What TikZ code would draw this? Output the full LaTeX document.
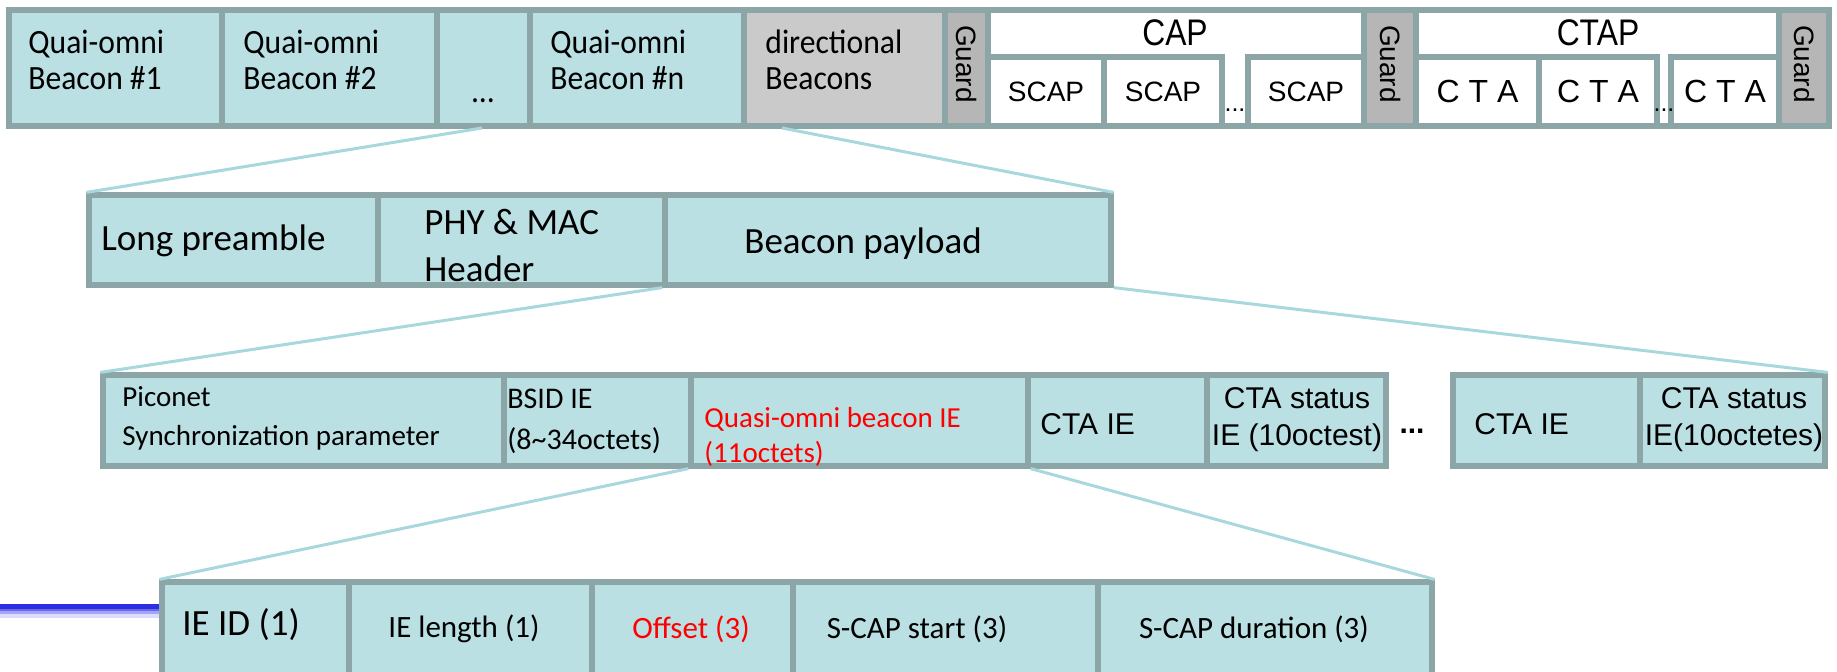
\documentclass[tikz,border=0pt]{standalone}
\usepackage{fontspec}
\setmainfont{Carlito}
\newfontfamily\calnarrow[FakeStretch=0.93]{Carlito}
\newfontfamily\arialf{Liberation Sans}
\newfontfamily\arialn[FakeStretch=0.86]{Liberation Sans}
\usetikzlibrary{fit}
\definecolor{cellfill}{RGB}{186,224,227}
\definecolor{cellline}{RGB}{140,166,168}
\definecolor{guardfill}{RGB}{182,182,182}
\definecolor{dirfill}{RGB}{202,202,202}
\definecolor{linkc}{RGB}{168,216,221}
\definecolor{barA}{RGB}{45,45,228}
\definecolor{barB}{RGB}{105,105,238}
\definecolor{barC}{RGB}{165,165,245}
\definecolor{barD}{RGB}{220,220,250}
\begin{document}
\begin{tikzpicture}[x=0.5pt,y=-0.5pt,
  box/.style={draw=cellline, line width=2.6pt, fill=cellfill, inner sep=0pt},
  whitebox/.style={box, fill=white},
  guardbox/.style={box, fill=guardfill},
  dirbox/.style={box, fill=dirfill},
  link/.style={draw=linkc, line width=1.5pt},
  lbl/.style={inner sep=0pt, align=left, anchor=west},
  clbl/.style={inner sep=0pt, align=center},
  fTop/.style={font=\calnarrow\fontsize{17}{18.3}\selectfont},
  fBig/.style={font=\fontsize{18.5}{23.5}\selectfont},
  fMid/.style={font=\fontsize{15.5}{19.5}\selectfont},
  fSmall/.style={font=\fontsize{14.5}{19.5}\selectfont},
  fArial/.style={font=\arialf\fontsize{15}{18.5}\selectfont},
  fGuard/.style={font=\arialf\fontsize{14}{15}\selectfont},
]
\useasboundingbox (0,0) rectangle (1837,672);
\clip (0,0) rectangle (1837,672);

% ---------- connector end points inside the superframe row ----------
\coordinate (t1) at (482,128);
\coordinate (t2) at (782,128);

% ---------- row 1: superframe ----------
\node[box, fit={(9,10) (222,126)}] (q1) {};
\node[box, fit={(222,10) (437,126)}] (q2) {};
\node[box, fit={(437,10) (530,126)}] (qd) {};
\node[box, fit={(530,10) (744,126)}] (qn) {};
\node[dirbox, fit={(744,10) (945,126)}] (dir) {};
\node[guardbox, fit={(945,10) (988,126)}] (g1) {};
\node[whitebox, fit={(988,10) (1364,126)}] (cap) {};
\node[whitebox, fit={(988,57) (1104,126)}] (s1) {};
\node[whitebox, fit={(1104,57) (1222,126)}] (s2) {};
\node[whitebox, fit={(1248,57) (1364,126)}] (s3) {};
\node[guardbox, fit={(1364,10) (1416,126)}] (g2) {};
\node[whitebox, fit={(1416,10) (1779,126)}] (ctap) {};
\node[whitebox, fit={(1416,57) (1539,126)}] (c1) {};
\node[whitebox, fit={(1539,57) (1657,126)}] (c2) {};
\node[whitebox, fit={(1671,57) (1779,126)}] (c3) {};
\node[guardbox, fit={(1779,10) (1829,126)}] (g3) {};

\node[lbl, fTop] (q1t) at (28,60) {Quai-omni\\Beacon \#1};
\node[lbl, fTop] (q2t) at (243,60) {Quai-omni\\Beacon \#2};
\node[clbl, fTop] (qdt) at (483,101) {...};
\node[lbl, fTop] (qnt) at (550,60) {Quai-omni\\Beacon \#n};
\node[lbl, fTop] (dirt) at (765,60) {directional\\Beacons};
\foreach \g in {g1,g2,g3}
  \node[clbl, fGuard, rotate=-90] (\g t) at ([shift={(0,-4)}]\g.center) {Guard};
\node[clbl, font=\arialn\fontsize{18.5}{20}\selectfont] (capt) at (1175,33) {CAP};
\node[clbl, font=\arialn\fontsize{18.5}{20}\selectfont] (ctapt) at (1598,33) {CTAP};
\foreach \s in {s1,s2,s3}
  \node[clbl, font=\arialf\fontsize{14}{16}\selectfont] (\s t) at (\s.center) {SCAP};
\foreach \c in {c1,c2,c3}
  \node[clbl, font=\arialf\fontsize{16}{17}\selectfont] (\c t) at (\c.center) {C T A};
\node[clbl, fGuard, font=\arialf\fontsize{12.5}{14}\selectfont] (capd) at (1235,110) {...};
\node[clbl, fGuard, font=\arialf\fontsize{12.5}{14}\selectfont] (ctapd) at (1664,110) {...};

% ---------- row 2: beacon frame ----------
\node[box, fit={(89,195) (378,285)}] (lp) {};
\node[box, fit={(378,195) (665,285)}] (hdr) {};
\node[box, fit={(665,195) (1111,285)}] (bp) {};
\node[lbl, fBig] (lpt) at (101,241) {Long preamble};
\node[lbl, fBig] (hdrt) at (424,246) {PHY \& MAC\\Header};
\node[lbl, fBig] (bpt) at (744,244) {Beacon payload};

% ---------- row 3: beacon payload ----------
\node[box, fit={(103,375) (504,466)}] (pic) {};
\node[box, fit={(504,375) (691,466)}] (bsid) {};
\node[box, fit={(691,375) (1028,466)}] (qo) {};
\node[box, fit={(1028,375) (1207,466)}] (cta1) {};
\node[box, fit={(1207,375) (1386,466)}] (cs1) {};
\node[box, fit={(1453,375) (1640,466)}] (cta2) {};
\node[box, fit={(1640,375) (1825,466)}] (cs2) {};
\node[lbl, fSmall] (pict) at (122,418) {Piconet\\Synchronization parameter};
\node[lbl, font=\fontsize{15}{20.5}\selectfont] (bsidt) at (507,421) {BSID IE\\(8\textasciitilde34octets)};
\node[lbl, font=\fontsize{14.5}{17.5}\selectfont, text=red] (qot) at (704,437) {Quasi-omni beacon IE\\(11octets)};
\node[lbl, fArial] (cta1t) at (1040,424) {CTA IE};
\node[clbl, fArial] (cs1t) at (1297,420) {CTA status\\IE (10octest)};
\node[clbl, font=\arialf\bfseries\fontsize{15}{16}\selectfont] (rowdots) at (1412,431) {...};
\node[lbl, fArial] (cta2t) at (1474,424) {CTA IE};
\node[clbl, fArial] (cs2t) at (1734,420) {CTA status\\IE(10octetes)};

% ---------- row 4: quasi-omni beacon IE ----------
\node[box, fit={(162,582) (349,700)}] (ieid) {};
\node[box, fit={(349,582) (592,700)}] (iel) {};
\node[box, fit={(592,582) (793,700)}] (off) {};
\node[box, fit={(793,582) (1098,700)}] (st) {};
\node[box, fit={(1098,582) (1432,700)}] (dur) {};
\node[lbl, fBig] (ieidt) at (182,625) {IE ID (1)};
\node[clbl, fMid] (ielt) at (464,629) {IE length (1)};
\node[clbl, fMid, text=red] (offt) at (691,629) {Offset (3)};
\node[clbl, fMid] (stt) at (917,629) {S-CAP start (3)};
\node[clbl, fMid] (durt) at (1254,629) {S-CAP duration (3)};

% ---------- blue bar on the left, fading downwards ----------
\coordinate (bl) at (0,604);
\fill[barD] (0,614) rectangle (ieid.west |- 0,618);
\fill[barC] (0,611) rectangle (ieid.west |- 0,614);
\fill[barB] (0,609) rectangle (ieid.west |- 0,611);
\fill[barA] (bl) rectangle (ieid.west |- 0,609);

% ---------- expansion connectors ----------
\draw[link] (t1) -- (lp.north west);
\draw[link] (t2) -- (bp.north east);
\draw[link] (bp.south west) -- (pic.north west);
\draw[link] (bp.south east) -- (cs2.north east);
\draw[link] (qo.south west) -- (ieid.north west);
\draw[link] (qo.south east) -- (dur.north east);
\end{tikzpicture}
\end{document}
